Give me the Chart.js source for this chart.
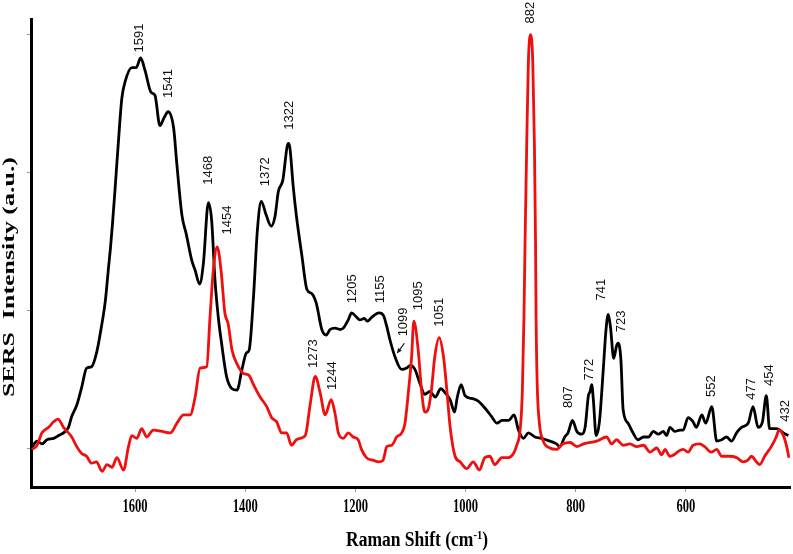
<!DOCTYPE html>
<html>
<head>
<meta charset="utf-8">
<script src="https://cdn.jsdelivr.net/npm/chart.js@4.4.1/dist/chart.umd.min.js"></script>
<style>
  html, body { margin: 0; padding: 0; background: #fff; }
  canvas { display: block; }
</style>
</head>
<body>
<canvas id="raman" width="793" height="554"></canvas>
<script>
// black spectrum
const blackShift = [1787, 1778, 1769, 1760, 1748, 1739, 1730, 1721, 1715, 1706, 1697, 1688, 1679, 1670, 1662, 1654, 1648, 1645, 1641, 1636, 1630, 1624, 1618, 1606, 1598, 1590, 1582, 1571, 1564, 1555, 1547, 1540, 1530, 1524, 1515, 1507, 1497, 1491, 1483, 1476, 1467, 1461, 1455, 1449, 1443, 1434, 1424, 1415, 1406, 1398, 1393, 1385, 1378, 1371, 1362, 1353, 1346, 1340, 1332, 1322, 1319, 1313, 1307, 1297, 1288, 1279, 1271, 1261, 1253, 1246, 1237, 1228, 1222, 1213, 1207, 1198, 1192, 1184, 1178, 1170, 1157, 1149, 1143, 1137, 1128, 1116, 1107, 1100, 1092, 1083, 1074, 1065, 1055, 1045, 1037, 1028, 1020, 1015, 1008, 1001, 989, 977, 965, 953, 943, 934, 922, 912, 904, 895, 886, 874, 862, 847, 835, 829, 820, 814, 806, 798, 789, 783, 777, 774, 771, 768, 763, 757, 750, 745, 741, 737, 731, 726, 723, 718, 714, 705, 696, 687, 677, 668, 659, 650, 641, 635, 629, 620, 611, 605, 596, 587, 581, 571, 564, 553, 544, 535, 526, 517, 508, 499, 487, 478, 469, 461, 454, 448, 435, 423, 414];
const blackIntensity = [1, 5, 3, 6, 7, 9, 11, 15, 23, 31, 44, 58, 59, 69, 86, 107, 132, 144, 163, 190, 224, 254, 266, 276, 276, 283, 274, 258, 256, 234, 240, 244, 232, 205, 169, 155, 136, 129, 119, 134, 178, 165, 122, 95, 76, 52, 43, 42, 57, 69, 71, 110, 158, 179, 169, 161, 168, 186, 194, 221, 218, 190, 168, 139, 115, 112, 105, 86, 82, 86, 87, 86, 87, 93, 98, 95, 93, 94, 92, 95, 98, 96, 88, 78, 66, 57, 58, 60, 57, 47, 39, 41, 37, 43, 40, 35, 26, 37, 46, 38, 36, 34, 29, 23, 18, 20, 20, 24, 13, 7, 11, 8, 7, 5, 3, 1, 8, 11, 20, 12, 10, 15, 38, 41, 46, 35, 9, 19, 57, 86, 97, 88, 65, 74, 76, 64, 28, 18, 11, 6, 8, 8, 12, 10, 12, 9, 15, 12, 13, 13, 22, 19, 15, 24, 18, 30, 5, 6, 8, 5, 11, 15, 18, 30, 15, 19, 38, 14, 14, 11, 9];

// red spectrum
const redShift = [1787, 1778, 1769, 1757, 1748, 1740, 1730, 1715, 1706, 1697, 1688, 1679, 1670, 1660, 1651, 1642, 1633, 1621, 1612, 1606, 1597, 1588, 1579, 1567, 1551, 1536, 1524, 1512, 1500, 1491, 1482, 1470, 1464, 1458, 1451, 1444, 1437, 1431, 1424, 1415, 1403, 1394, 1385, 1373, 1361, 1352, 1343, 1334, 1325, 1316, 1307, 1300, 1291, 1282, 1273, 1264, 1255, 1244, 1237, 1231, 1222, 1213, 1204, 1195, 1189, 1180, 1167, 1158, 1150, 1143, 1134, 1125, 1116, 1110, 1104, 1098, 1094, 1086, 1080, 1074, 1068, 1062, 1056, 1048, 1040, 1034, 1028, 1019, 1010, 998, 986, 975, 965, 956, 947, 934, 922, 913, 907, 901, 897, 894, 892, 889, 886, 882, 878, 875, 873, 872, 870, 866, 859, 847, 835, 823, 810, 798, 786, 774, 762, 744, 735, 726, 714, 702, 689, 677, 665, 653, 644, 638, 629, 605, 596, 587, 575, 566, 554, 544, 535, 520, 508, 496, 488, 481, 472, 466, 457, 445, 436, 431, 423, 417, 413];
const redIntensity = [-1, 2, 11, 15, 19, 21, 15, 8, 1, -4, -6, -11, -10, -17, -12, -14, -7, -16, 1, 9, 7, 14, 8, 13, 12, 11, 18, 24, 24, 37, 58, 59, 95, 129, 146, 129, 98, 90, 71, 61, 54, 53, 46, 37, 30, 22, 19, 11, 11, 2, 6, 7, 9, 32, 52, 40, 24, 35, 25, 11, 7, 11, 8, 6, -1, -7, -9, -10, -9, 1, 2, 8, 11, 18, 40, 66, 92, 71, 42, 26, 28, 42, 66, 80, 66, 42, 15, -6, -10, -15, -10, -16, -7, -6, -12, -7, -7, -4, 2, 13, 40, 95, 150, 220, 280, 300, 280, 220, 150, 95, 47, 18, 5, 0, -1, 3, 4, 1, 3, 4, 5, 8, 3, 6, 2, 3, 1, 2, -3, 0, -5, -1, -6, -1, -3, 2, 3, 1, -3, -1, -6, -6, -7, -10, -9, -6, -10, -12, -6, 1, 8, 13, 9, 1, -7];

// peak labels: text, shift where the label stands, intensity at the label foot
const peakText  = ['1591', '1541', '1468', '1454', '1372', '1322', '1205', '1155', '1273', '1244', '1099', '1095', '1051', '882', '807', '772', '741', '723', '552', '477', '454', '432'];
const peakShift = [1592, 1540, 1467, 1432, 1364, 1319, 1206, 1155, 1276, 1241, 1113, 1086, 1047, 883, 814, 776, 753, 717, 553, 481, 448, 420];
const peakLevel = [287, 254, 191, 155, 190, 231, 105, 105, 58, 42, 81, 100, 88, 308, 29, 49, 107, 84, 37, 35, 45, 19];

const xTicks = [1600, 1400, 1200, 1000, 800, 600];
const yTicks = [0, 100, 200, 300];

const serif = '"Liberation Serif", "Times New Roman", serif';

function toPoints(xs, ys) {
  return xs.map((x, i) => ({ x: x, y: ys[i] }));
}

// draws text squeezed like the scanned figure: sx/sy stretch after rotation
function stretchedText(ctx, text, cx, cy, font, sx, sy, rot) {
  ctx.save();
  ctx.font = font;
  ctx.translate(cx, cy);
  ctx.scale(sx, sy);
  if (rot) ctx.rotate(rot);
  ctx.fillText(text, 0, 0);
  ctx.restore();
}

const peakLabels = {
  id: 'peakLabels',
  afterDatasetsDraw(chart) {
    const { ctx, scales: { x, y }, chartArea } = chart;
    ctx.save();
    ctx.fillStyle = '#111';
    ctx.font = '13px "Liberation Sans", Arial, sans-serif';
    ctx.textAlign = 'left';
    ctx.textBaseline = 'middle';
    peakText.forEach((t, i) => {
      ctx.save();
      ctx.translate(x.getPixelForValue(peakShift[i]), y.getPixelForValue(peakLevel[i]));
      ctx.rotate(-Math.PI / 2);
      ctx.fillText(t, 0, 0);
      ctx.restore();
    });

    // small arrow under 1099
    const x0 = x.getPixelForValue(1111), y0 = y.getPixelForValue(76);
    const x1 = x.getPixelForValue(1124), y1 = y.getPixelForValue(69);
    ctx.strokeStyle = '#111';
    ctx.lineWidth = 1.2;
    ctx.beginPath();
    ctx.moveTo(x0, y0);
    ctx.lineTo(x1, y1);
    ctx.stroke();
    const a = Math.atan2(y1 - y0, x1 - x0);
    ctx.beginPath();
    ctx.moveTo(x1, y1);
    ctx.lineTo(x1 - 5 * Math.cos(a - 0.5), y1 - 5 * Math.sin(a - 0.5));
    ctx.lineTo(x1 - 5 * Math.cos(a + 0.5), y1 - 5 * Math.sin(a + 0.5));
    ctx.closePath();
    ctx.fillStyle = '#111';
    ctx.fill();

    // x tick labels, narrow bold serif
    ctx.fillStyle = '#000';
    ctx.textAlign = 'center';
    ctx.textBaseline = 'middle';
    xTicks.forEach(v => {
      stretchedText(ctx, String(v), x.getPixelForValue(v), chartArea.bottom + 20,
        'bold 19px ' + serif, 0.66, 1, 0);
    });

    // y title, rotated
    ctx.font = 'bold 26px ' + serif;
    const yt = 'SERS  Intensity (a.u.)';
    const ylen = ctx.measureText(yt).width;
    stretchedText(ctx, yt, 10, 277, 'bold 26px ' + serif, 0.64, 240 / ylen, -Math.PI / 2);

    // x title with superscript
    const main = 'Raman Shift (cm';
    const sup = '-1';
    ctx.font = 'bold 20px ' + serif;
    const w1 = ctx.measureText(main).width;
    const w3 = ctx.measureText(')').width;
    ctx.font = 'bold 12px ' + serif;
    const w2 = ctx.measureText(sup).width;
    const k = 142 / (w1 + w2 + w3);
    const cx = 417;
    const base = 546;
    ctx.save();
    ctx.translate(cx - 71, base);
    ctx.scale(k, 1);
    ctx.textAlign = 'left';
    ctx.textBaseline = 'alphabetic';
    ctx.font = 'bold 20px ' + serif;
    ctx.fillText(main, 0, 0);
    ctx.font = 'bold 12px ' + serif;
    ctx.fillText(sup, w1, -7);
    ctx.font = 'bold 20px ' + serif;
    ctx.fillText(')', w1 + w2, 0);
    ctx.restore();
    ctx.restore();
  }
};

new Chart(document.getElementById('raman'), {
  type: 'line',
  data: {
    datasets: [
      {
        data: toPoints(redShift, redIntensity),
        borderColor: '#f00f0f',
        borderWidth: 2.8,
        pointRadius: 0,
        cubicInterpolationMode: 'monotone'
      },
      {
        data: toPoints(blackShift, blackIntensity),
        borderColor: '#000',
        borderWidth: 2.8,
        pointRadius: 0,
        cubicInterpolationMode: 'monotone'
      }
    ]
  },
  options: {
    responsive: false,
    animation: false,
    layout: { padding: { top: 19, right: 3, left: 0, bottom: 0 } },
    plugins: { legend: { display: false }, tooltip: { enabled: false } },
    scales: {
      x: {
        type: 'linear',
        reverse: true,
        min: 411,
        max: 1789,
        afterBuildTicks: s => { s.ticks = xTicks.map(v => ({ value: v })); },
        afterFit: s => { s.height = 67; },
        grid: { drawOnChartArea: false, drawTicks: true, tickLength: 5, color: '#999' },
        border: { display: true, color: '#000', width: 3 },
        ticks: { callback: () => '', maxRotation: 0 }
      },
      y: {
        min: -28.3,
        max: 311.3,
        afterBuildTicks: s => { s.ticks = yTicks.map(v => ({ value: v })); },
        afterFit: s => { s.width = 31; },
        grid: { drawOnChartArea: false, drawTicks: true, tickLength: 4, color: '#999' },
        border: { display: true, color: '#000', width: 3 },
        ticks: { callback: () => '' }
      }
    }
  },
  plugins: [peakLabels]
});
</script>
</body>
</html>
